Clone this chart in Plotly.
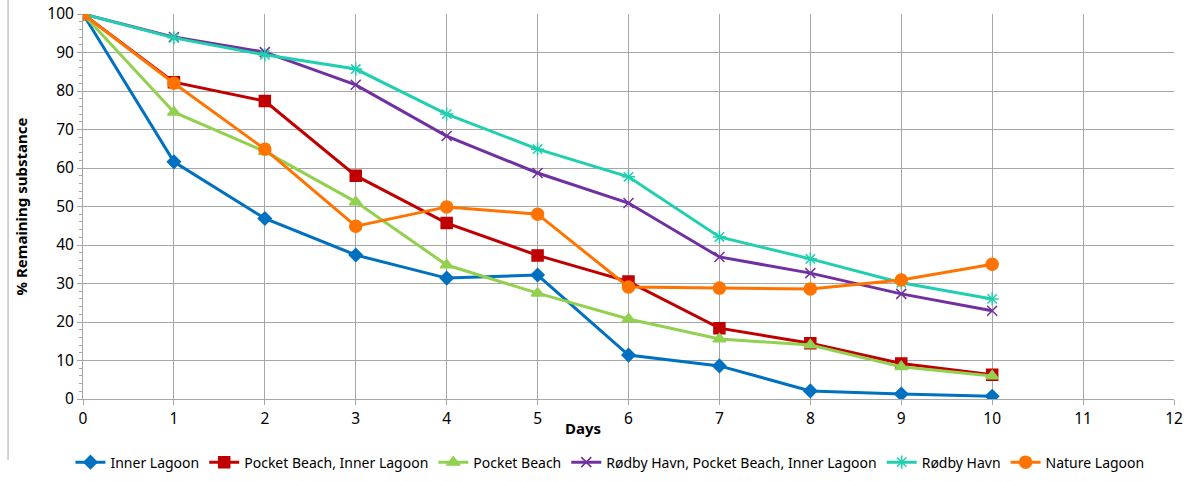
import plotly.graph_objects as go

days = list(range(11))
inner_lagoon = [100, 61.6, 46.9, 37.4, 31.4, 32.2, 11.4, 8.6, 2.1, 1.3, 0.7]
pocket_inner = [100, 82.3, 77.4, 58.0, 45.7, 37.3, 30.5, 18.4, 14.5, 9.2, 6.3]
pocket_beach = [100, 74.5, 64.3, 51.2, 34.8, 27.5, 20.8, 15.6, 14.0, 8.4, 6.0]
rodby_pocket_inner = [100, 94.0, 90.1, 81.6, 68.3, 58.7, 50.9, 36.9, 32.7, 27.3, 22.9]
rodby_havn = [100, 93.8, 89.4, 85.7, 74.0, 64.9, 57.7, 42.1, 36.4, 30.2, 26.0]
nature_lagoon = [100, 82.0, 64.9, 44.9, 49.9, 48.0, 29.1, 28.8, 28.6, 30.9, 35.0]

series = [
    ("Inner Lagoon", inner_lagoon, "#0070C0", "diamond", 10),
    ("Pocket Beach, Inner Lagoon", pocket_inner, "#C00000", "square", 11),
    ("Pocket Beach", pocket_beach, "#92D050", "triangle-up", 11),
    ("Rødby Havn, Pocket Beach, Inner Lagoon", rodby_pocket_inner, "#7030A0", "x-thin", 10),
    ("Rødby Havn", rodby_havn, "#1FCFAE", "asterisk", 11),
    ("Nature Lagoon", nature_lagoon, "#FF7400", "circle", 12),
]

fig = go.Figure()
for name, vals, color, sym, size in series:
    fig.add_trace(go.Scatter(
        x=days, y=vals, name=name, mode="lines+markers",
        line=dict(color=color, width=3),
        marker=dict(symbol=sym, size=size, color=color,
                    line=dict(color=color, width=1.5)),
    ))

font = "Noto Sans, Open Sans, sans-serif"
fig.update_layout(
    width=1189, height=481,
    margin=dict(l=83, r=15, t=14, b=82, autoexpand=False),
    plot_bgcolor="white", paper_bgcolor="white",
    font=dict(family=font, size=14, color="black"),
    showlegend=True,
    legend=dict(orientation="h", x=0.483, xanchor="center", y=-0.165, yanchor="middle",
                font=dict(size=14), itemwidth=30, tracegroupgap=0),
    xaxis=dict(range=[0, 12], dtick=1, tick0=0, showgrid=True, gridcolor="#A6A6A6",
               gridwidth=1, showline=True, linecolor="#A6A6A6", linewidth=1,
               ticks="outside", ticklen=5, tickcolor="#A6A6A6", zeroline=False,
               tickfont=dict(size=15.5), automargin=False),
    yaxis=dict(range=[0, 100], dtick=10, showgrid=True, gridcolor="#A6A6A6",
               gridwidth=1, showline=True, linecolor="#A6A6A6", linewidth=1,
               ticks="outside", ticklen=5, tickcolor="#A6A6A6", zeroline=False,
               tickfont=dict(size=15.5), automargin=False,
               minor=dict(dtick=2, ticks="outside", ticklen=3, tickcolor="#A6A6A6", showgrid=False),
               title=dict(text="<b>% Remaining substance</b>", font=dict(size=15), standoff=16)),
)
fig.add_annotation(text="<b>Days</b>", xref="x", yref="paper", x=5.5, y=-0.075,
                   showarrow=False, font=dict(size=15), yanchor="middle")
fig.add_shape(type="line", xref="paper", yref="paper", x0=-0.0687, x1=-0.0687,
              y0=-0.158, y1=1.04, line=dict(color="#A6A6A6", width=1))

fig.write_html("out.html", config={"displayModeBar": False},
               post_script="document.body.style.margin='0';")
